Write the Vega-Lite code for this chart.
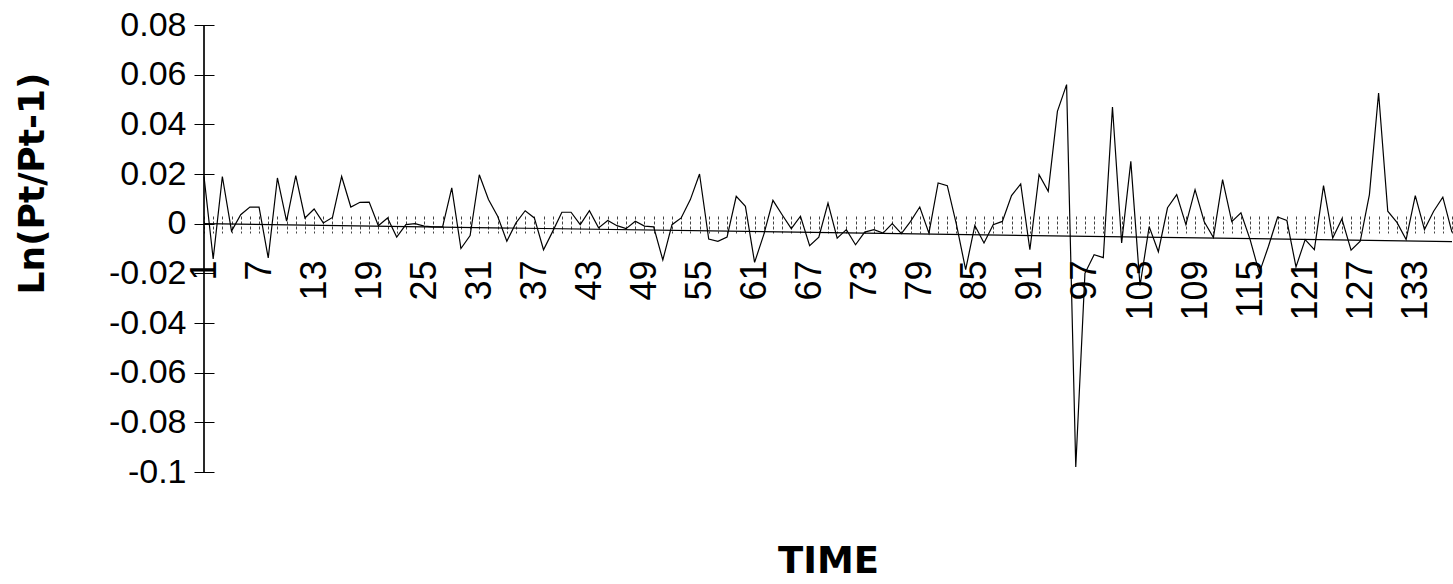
{
  "$schema": "https://vega.github.io/schema/vega-lite/v6.json",
  "autosize": "none",
  "width": 1248,
  "height": 447,
  "padding": {"left": 204, "top": 25, "right": 1, "bottom": 112},
  "background": "white",
  "config": {"view": {"stroke": null}},
  "datasets": {
    "returns": [
      {"t":1,"v":0.019},{"t":2,"v":-0.0142},{"t":3,"v":0.019},{"t":4,"v":-0.003},{"t":5,"v":0.0036},
      {"t":6,"v":0.0067},{"t":7,"v":0.0067},{"t":8,"v":-0.0138},{"t":9,"v":0.0184},{"t":10,"v":0.001},
      {"t":11,"v":0.0193},{"t":12,"v":0.0023},{"t":13,"v":0.0059},{"t":14,"v":0.0003},{"t":15,"v":0.0025},
      {"t":16,"v":0.019},{"t":17,"v":0.0067},{"t":18,"v":0.0086},{"t":19,"v":0.0087},{"t":20,"v":-0.0008},
      {"t":21,"v":0.0023},{"t":22,"v":-0.0054},{"t":23,"v":-0.0004},{"t":24,"v":0},{"t":25,"v":-0.001},
      {"t":26,"v":-0.0013},{"t":27,"v":-0.0013},{"t":28,"v":0.0144},{"t":29,"v":-0.01},{"t":30,"v":-0.0048},
      {"t":31,"v":0.0197},{"t":32,"v":0.0097},{"t":33,"v":0.003},{"t":34,"v":-0.0071},{"t":35,"v":0.0003},
      {"t":36,"v":0.0052},{"t":37,"v":0.0023},{"t":38,"v":-0.0105},{"t":39,"v":-0.0031},{"t":40,"v":0.0046},
      {"t":41,"v":0.0046},{"t":42,"v":-0.0004},{"t":43,"v":0.0052},{"t":44,"v":-0.0017},{"t":45,"v":0.0013},
      {"t":46,"v":-0.0008},{"t":47,"v":-0.002},{"t":48,"v":0.001},{"t":49,"v":-0.001},{"t":50,"v":-0.0013},
      {"t":51,"v":-0.0146},{"t":52,"v":-0.0004},{"t":53,"v":0.0023},{"t":54,"v":0.0097},{"t":55,"v":0.02},
      {"t":56,"v":-0.0062},{"t":57,"v":-0.0071},{"t":58,"v":-0.0054},{"t":59,"v":0.011},{"t":60,"v":0.007},
      {"t":61,"v":-0.0156},{"t":62,"v":-0.0044},{"t":63,"v":0.0094},{"t":64,"v":0.0036},{"t":65,"v":-0.002},
      {"t":66,"v":0.003},{"t":67,"v":-0.0089},{"t":68,"v":-0.0054},{"t":69,"v":0.0083},{"t":70,"v":-0.0058},
      {"t":71,"v":-0.0024},{"t":72,"v":-0.0085},{"t":73,"v":-0.0034},{"t":74,"v":-0.0024},{"t":75,"v":-0.0038},
      {"t":76,"v":0},{"t":77,"v":-0.004},{"t":78,"v":0.0009},{"t":79,"v":0.0067},{"t":80,"v":-0.0038},
      {"t":81,"v":0.0164},{"t":82,"v":0.0153},{"t":83,"v":-0.0004},{"t":84,"v":-0.0185},{"t":85,"v":-0.0007},
      {"t":86,"v":-0.0078},{"t":87,"v":-0.0004},{"t":88,"v":0.0009},{"t":89,"v":0.0113},{"t":90,"v":0.016},
      {"t":91,"v":-0.0105},{"t":92,"v":0.0197},{"t":93,"v":0.013},{"t":94,"v":0.0452},{"t":95,"v":0.056},
      {"t":96,"v":-0.098},{"t":97,"v":-0.02},{"t":98,"v":-0.0125},{"t":99,"v":-0.0137},{"t":100,"v":0.047},
      {"t":101,"v":-0.0078},{"t":102,"v":0.0251},{"t":103,"v":-0.025},{"t":104,"v":-0.0012},{"t":105,"v":-0.0113},
      {"t":106,"v":0.0064},{"t":107,"v":0.0117},{"t":108,"v":-0.0004},{"t":109,"v":0.0137},{"t":110,"v":0.0008},
      {"t":111,"v":-0.0056},{"t":112,"v":0.0177},{"t":113,"v":0.0008},{"t":114,"v":0.0044},{"t":115,"v":-0.0064},
      {"t":116,"v":-0.0198},{"t":117,"v":-0.0091},{"t":118,"v":0.0027},{"t":119,"v":0.0013},{"t":120,"v":-0.0174},
      {"t":121,"v":-0.0064},{"t":122,"v":-0.0105},{"t":123,"v":0.0153},{"t":124,"v":-0.0058},{"t":125,"v":0.0019},
      {"t":126,"v":-0.0107},{"t":127,"v":-0.0071},{"t":128,"v":0.0117},{"t":129,"v":0.0526},{"t":130,"v":0.005},
      {"t":131,"v":0.0005},{"t":132,"v":-0.0064},{"t":133,"v":0.0113},{"t":134,"v":-0.0024},{"t":135,"v":0.005},
      {"t":136,"v":0.0107},{"t":137,"v":-0.0035}
    ],
    "baseline": [
      {"t":1,"v":0},{"t":137,"v":-0.0072}
    ]
  },
  "layer": [
    {
      "data": {"name": "baseline"},
      "mark": {"type": "line", "color": "black", "strokeWidth": 1.2},
      "encoding": {
        "x": {
          "field": "t", "type": "ordinal", "sort": "ascending",
          "scale": {"type": "point", "padding": 0},
          "axis": {
            "orient": "bottom",
            "offset": -256,
            "domain": false,
            "grid": false,
            "ticks": true,
            "tickSize": 17,
            "tickColor": "#444444",
            "tickWidth": 1,
            "tickDash": [3, 2],
            "labelAngle": -90,
            "labelPadding": 27,
            "labelFont": "Liberation Sans",
            "labelFontSize": 36,
            "labelColor": "black",
            "labelOverlap": false,
            "labelExpr": "(datum.value - 1) % 6 == 0 ? datum.label : ''",
            "title": "TIME",
            "titleFont": "DejaVu Sans",
            "titleFontWeight": "bold",
            "titleFontSize": 37,
            "titleColor": "black",
            "titleBaseline": "alphabetic",
            "titleY": 356
          }
        },
        "y": {
          "field": "v", "type": "quantitative",
          "scale": {"domain": [-0.1, 0.08], "nice": false, "zero": false},
          "axis": {
            "orient": "left",
            "offset": -10,
            "domain": false,
            "grid": false,
            "values": [-0.1, -0.08, -0.06, -0.04, -0.02, 0, 0.02, 0.04, 0.06, 0.08],
            "labelExpr": "'' + datum.value",
            "tickSize": 20,
            "tickColor": "black",
            "tickWidth": 1,
            "labelPadding": 8,
            "labelFont": "Liberation Sans",
            "labelFontSize": 34,
            "labelColor": "black",
            "labelOverlap": false,
            "title": "Ln(Pt/Pt-1)",
            "titleFont": "DejaVu Sans",
            "titleFontWeight": "bold",
            "titleFontSize": 36,
            "titleColor": "black",
            "titleAngle": -90,
            "titleAlign": "center",
            "titleBaseline": "middle",
            "titleX": -182,
            "titleY": 158
          }
        }
      }
    },
    {
      "data": {"name": "returns"},
      "mark": {"type": "line", "color": "black", "strokeWidth": 1.2},
      "encoding": {
        "x": {"field": "t", "type": "ordinal", "sort": "ascending"},
        "y": {"field": "v", "type": "quantitative"}
      }
    },
    {
      "data": {"name": "baseline"},
      "mark": {"type": "rule", "color": "black", "strokeWidth": 1.2},
      "encoding": {
        "x": {"datum": 1, "type": "ordinal"}
      }
    }
  ]
}
